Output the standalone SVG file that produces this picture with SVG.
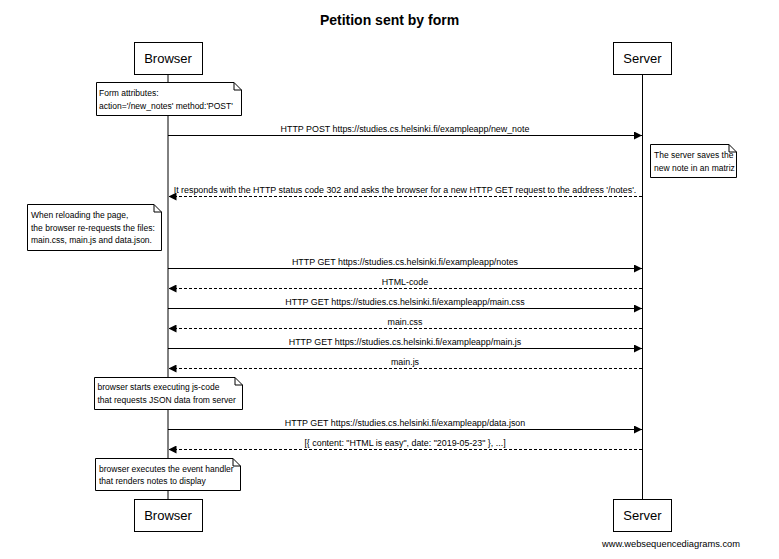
<svg xmlns="http://www.w3.org/2000/svg" width="779" height="559" viewBox="0 0 779 559">
<style>
text{font-family:"Liberation Sans",Arial,sans-serif;fill:#000}
.title{font-size:14px;font-weight:bold}
.part{font-size:13px}
.msg{font-size:8.9px}
.note{font-size:8.5px}
.foot{font-size:9.3px}
.box{fill:#fff;stroke:#000;stroke-width:1}
.life{stroke:#000;stroke-width:1}
.solid{stroke:#000;stroke-width:1;fill:none}
.dash{stroke:#000;stroke-width:1;fill:none;stroke-dasharray:3,2}
.nb{fill:#fff;stroke:#000;stroke-width:1}
</style>
<defs>
<marker id="ah" markerWidth="8" markerHeight="8" refX="8" refY="4" orient="auto" markerUnits="userSpaceOnUse">
<path d="M0,0 L8,4 L0,8 Z" fill="#000"/>
</marker>
</defs>
<rect width="779" height="559" fill="#fff"/>
<text class="title" x="389.5" y="25" text-anchor="middle">Petition sent by form</text>

<g id="lifelines">
<line class="life" x1="168" y1="74" x2="168" y2="499"/>
<line class="life" x1="642.5" y1="74" x2="642.5" y2="499"/>
</g>

<g id="browser-top">
<rect class="box" x="134.5" y="42.5" width="68" height="32"/>
<text class="part" x="168" y="63" text-anchor="middle">Browser</text>
</g>
<g id="server-top">
<rect class="box" x="613.5" y="42.5" width="58" height="32"/>
<text class="part" x="642.5" y="63" text-anchor="middle">Server</text>
</g>
<g id="browser-bottom">
<rect class="box" x="134.5" y="499.5" width="68" height="32"/>
<text class="part" x="168" y="520" text-anchor="middle">Browser</text>
</g>
<g id="server-bottom">
<rect class="box" x="613.5" y="499.5" width="58" height="32"/>
<text class="part" x="642.5" y="520" text-anchor="middle">Server</text>
</g>

<g id="note-form">
<path class="nb" d="M96.5,82.5 H234 L241.5,90 V115.5 H96.5 Z"/>
<path class="solid" d="M234,82.5 V90 H241.5"/>
<text class="note" x="99" y="95.5">Form attributes:</text>
<text class="note" x="99" y="108.5">action='/new_notes' method:'POST'</text>
</g>

<g id="note-server">
<path class="nb" d="M650.5,144.5 H729 L736.5,152 V177.5 H650.5 Z"/>
<path class="solid" d="M729,144.5 V152 H736.5"/>
<text class="note" x="654" y="158">The server saves the</text>
<text class="note" x="654" y="170.5">new note in an matriz</text>
</g>

<g id="note-reload">
<path class="nb" d="M27.5,204.5 H154 L161.5,212 V250.5 H27.5 Z"/>
<path class="solid" d="M154,204.5 V212 H161.5"/>
<text class="note" x="31" y="218">When reloading the page,</text>
<text class="note" x="31" y="230.5">the browser re-requests the files:</text>
<text class="note" x="31" y="243">main.css, main.js and data.json.</text>
</g>

<g id="note-js">
<path class="nb" d="M94.5,377.5 H235 L242.5,385 V409.5 H94.5 Z"/>
<path class="solid" d="M235,377.5 V385 H242.5"/>
<text class="note" x="97.5" y="390">browser starts executing js-code</text>
<text class="note" x="97.5" y="403">that requests JSON data from server</text>
</g>

<g id="note-render">
<path class="nb" d="M95.5,458.5 H233 L240.5,466 V490.5 H95.5 Z"/>
<path class="solid" d="M233,458.5 V466 H240.5"/>
<text class="note" x="99" y="471.5">browser executes the event handler</text>
<text class="note" x="99" y="484">that renders notes to display</text>
</g>

<g id="connectors">
<line class="solid" x1="168" y1="135.5" x2="642" y2="135.5" marker-end="url(#ah)"/>
<text class="msg" x="405" y="132" text-anchor="middle">HTTP POST https://studies.cs.helsinki.fi/exampleapp/new_note</text>

<line class="dash" x1="642" y1="196.5" x2="168.5" y2="196.5" marker-end="url(#ah)"/>
<text class="msg" x="405" y="193" text-anchor="middle">It responds with the HTTP status code 302 and asks the browser for a new HTTP GET request to the address '/notes'.</text>

<line class="solid" x1="168" y1="268.5" x2="642" y2="268.5" marker-end="url(#ah)"/>
<text class="msg" x="405" y="265" text-anchor="middle">HTTP GET https://studies.cs.helsinki.fi/exampleapp/notes</text>

<line class="dash" x1="642" y1="288.5" x2="168.5" y2="288.5" marker-end="url(#ah)"/>
<text class="msg" x="405" y="285" text-anchor="middle">HTML-code</text>

<line class="solid" x1="168" y1="308.5" x2="642" y2="308.5" marker-end="url(#ah)"/>
<text class="msg" x="405" y="305" text-anchor="middle">HTTP GET https://studies.cs.helsinki.fi/exampleapp/main.css</text>

<line class="dash" x1="642" y1="328.5" x2="168.5" y2="328.5" marker-end="url(#ah)"/>
<text class="msg" x="405" y="325" text-anchor="middle">main.css</text>

<line class="solid" x1="168" y1="348.5" x2="642" y2="348.5" marker-end="url(#ah)"/>
<text class="msg" x="405" y="345" text-anchor="middle">HTTP GET https://studies.cs.helsinki.fi/exampleapp/main.js</text>

<line class="dash" x1="642" y1="368.5" x2="168.5" y2="368.5" marker-end="url(#ah)"/>
<text class="msg" x="405" y="365" text-anchor="middle">main.js</text>

<line class="solid" x1="168" y1="429.5" x2="642" y2="429.5" marker-end="url(#ah)"/>
<text class="msg" x="405" y="426" text-anchor="middle">HTTP GET https://studies.cs.helsinki.fi/exampleapp/data.json</text>

<line class="dash" x1="642" y1="449.5" x2="168.5" y2="449.5" marker-end="url(#ah)"/>
<text class="msg" x="405" y="446" text-anchor="middle">[{ content: "HTML is easy", date: "2019-05-23" }, ...]</text>
</g>

<text class="foot" x="740" y="547" text-anchor="end">www.websequencediagrams.com</text>
</svg>
